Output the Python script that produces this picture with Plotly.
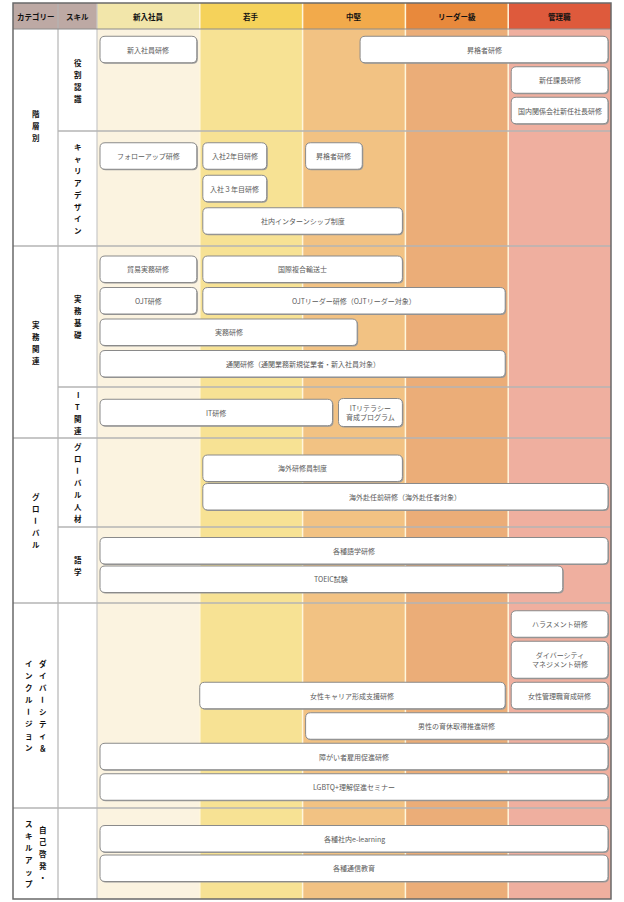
import plotly.graph_objects as go

# ---- data -------------------------------------------------------------
levels = ["新入社員", "若手", "中堅", "リーダー級", "管理職"]

# vertical category labels, one string per text column (right to left)
categories = [["階層別"], ["実務関連"], ["グローバル"],
              ["ダイバーシティ＆", "インクルージョン"], ["自己啓発・", "スキルアップ"]]

skills = ["役割認識", "キャリアデザイン", "実務基礎", "IT関連", "グローバル人材", "語学", "", ""]
skill_cat = [0, 0, 1, 1, 2, 2, 3, 4]

prog_names = [
    "新入社員研修", "昇格者研修", "新任課長研修", "国内関係会社新任社長研修",
    "フォローアップ研修", "入社2年目研修", "昇格者研修", "入社３年目研修", "社内インターンシップ制度",
    "貿易実務研修", "国際複合輸送士", "OJT研修", "OJTリーダー研修（OJTリーダー対象）", "実務研修",
    "通関研修（通関業務新規従業者・新入社員対象）",
    "IT研修", "ITリテラシー<br>育成プログラム",
    "海外研修員制度", "海外赴任前研修（海外赴任者対象）",
    "各種語学研修", "TOEIC試験",
    "ハラスメント研修", "ダイバーシティ<br>マネジメント研修", "女性キャリア形成支援研修", "女性管理職育成研修",
    "男性の育休取得推進研修", "障がい者雇用促進研修", "LGBTQ+理解促進セミナー",
    "各種社内e-learning", "各種通信教育",
]
prog_skill = [0, 0, 0, 0,
              1, 1, 1, 1, 1,
              2, 2, 2, 2, 2, 2,
              3, 3,
              4, 4,
              5, 5,
              6, 6, 6, 6, 6, 6, 6,
              7, 7]
prog_lane = [0, 0, 1, 2,
             0, 0, 0, 1, 2,
             0, 0, 1, 1, 2, 3,
             0, 0,
             0, 1,
             0, 1,
             0, 1, 2, 2, 3, 4, 5,
             0, 1]
# span in level units (0 = start of 新入社員, 5 = end of 管理職)
prog_from = [0, 2.53, 4, 4,
             0, 1, 2, 1, 1,
             0, 1, 0, 1, 0, 0,
             0, 2.32,
             1, 1,
             0, 0,
             4, 4, 0.97, 4, 2, 0, 0,
             0, 0]
prog_to = [1, 5, 5, 5,
           1, 1.68, 2.61, 1.68, 3,
           1, 3, 1, 4, 2.56, 4,
           2.32, 3,
           3, 5,
           5, 4.56,
           5, 5, 4, 5, 5, 5, 5,
           5, 5]

# ---- layout / style ---------------------------------------------------
W, H = 624, 902
LEFT, TOP = 13, 3
CAT_W, SKILL_W, LV_W = 45, 39, 102.8
HEAD_H = 26
row_h = [102, 115, 141, 51, 89, 76, 205, 91]
row_gap = [4, 6, 5, 0, 2, 2, 4, 3]
cat_nudge = [-12, 0, 0, 0, 0]
BOX_H = 26.5
tall = {"ダイバーシティ<br>マネジメント研修": 37, "ITリテラシー<br>育成プログラム": 28}

head_colors = ["#f2e6aa", "#f5d25a", "#f2aa4b", "#e8893c", "#de5a3c"]
body_colors = ["#fbf3e0", "#f7e294", "#f2c283", "#ebad78", "#efaf9f"]
FONT = "Noto Sans CJK JP"

px = 1.0 / LV_W
x_cat0 = -(CAT_W + SKILL_W) * px
x_skill0 = -SKILL_W * px
x_left = -(LEFT + CAT_W + SKILL_W) * px
x_right = len(levels)
body_top = TOP + HEAD_H
row_top = [body_top]
for h in row_h:
    row_top.append(row_top[-1] + h)
bottom = row_top[-1]

shapes = []
annotations = []


def line(x0, y0, x1, y1, color, width):
    shapes.append(dict(type="line", xref="x", yref="y", x0=x0, y0=y0, x1=x1, y1=y1,
                       line=dict(color=color, width=width), layer="above"))


def rect(x0, y0, x1, y1, color):
    shapes.append(dict(type="rect", xref="x", yref="y", x0=x0, y0=y0, x1=x1, y1=y1,
                       fillcolor=color, line=dict(width=0), layer="below"))


def rrect(x0, x1, y0, y1, r=5):
    rx, ry = r * px, r
    return (f"M{x0+rx},{y0} L{x1-rx},{y0} Q{x1},{y0} {x1},{y0+ry} L{x1},{y1-ry} "
            f"Q{x1},{y1} {x1-rx},{y1} L{x0+rx},{y1} Q{x0},{y1} {x0},{y1-ry} "
            f"L{x0},{y0+ry} Q{x0},{y0} {x0+rx},{y0} Z")


def label(x, y, text, size=7, color="#5a5a5a", bold=False, angle=0):
    if bold:
        text = "<b>" + text + "</b>"
    annotations.append(dict(x=x, y=y, xref="x", yref="y", text=text, showarrow=False,
                            textangle=angle, font=dict(family=FONT, size=size, color=color)))


def vlabel(x, yc, text, pitch=12):
    n = len(text)
    for i, ch in enumerate(text):
        y = yc + (i - (n - 1) / 2) * pitch
        label(x, y, ch, size=7.5, color="#111111", bold=True, angle=90 if ch == "ー" else 0)


# header + body fills
rect(x_cat0, TOP, 0, body_top, "#bda9a4")
rect(x_cat0, body_top, 0, bottom, "#ffffff")
for i, lv in enumerate(levels):
    rect(i, TOP, i + 1, body_top, head_colors[i])
    rect(i, body_top, i + 1, bottom, body_colors[i])

hy = TOP + HEAD_H / 2
label((x_cat0 + x_skill0) / 2, hy, "カテゴリー", size=7.5, color="#111111", bold=True)
label(x_skill0 / 2, hy, "スキル", size=7.5, color="#111111", bold=True)
for i, lv in enumerate(levels):
    label(i + 0.5, hy, lv, size=7.5, color="#111111", bold=True)

# grid lines
for i in range(1, len(levels)):
    line(i, TOP, i, bottom, "#fff6dc", 1.5)
line(x_skill0, TOP, x_skill0, bottom, "#b4b4b4", 1.2)
line(0, TOP, 0, bottom, "#c8c8c8", 1.2)
line(x_cat0, body_top, x_right, body_top, "#8c8c8c", 1)
for r in range(1, len(row_h)):
    x_start = x_cat0 if skill_cat[r] != skill_cat[r - 1] else x_skill0
    line(x_start, row_top[r], x_right, row_top[r], "#b4b4b4", 1.5)
shapes.append(dict(type="rect", xref="x", yref="y", x0=x_cat0, y0=TOP, x1=x_right, y1=bottom,
                   line=dict(color="#6a6a6a", width=1.5), layer="above"))

# skill labels
for r, sk in enumerate(skills):
    if sk:
        vlabel(x_skill0 / 2, (row_top[r] + row_top[r + 1]) / 2, sk)

# category labels
cat_xc = (x_cat0 + x_skill0) / 2
for c, cols in enumerate(categories):
    rows = [r for r in range(len(skills)) if skill_cat[r] == c]
    yc = (row_top[rows[0]] + row_top[rows[-1] + 1]) / 2 + cat_nudge[c]
    k = len(cols)
    for j, col in enumerate(cols):
        xo = ((k - 1) / 2 - j) * 14 * px
        vlabel(cat_xc + xo, yc, col)

# program boxes
for r in range(len(skills)):
    idx = [i for i in range(len(prog_names)) if prog_skill[i] == r]
    nl = max(prog_lane[i] for i in idx) + 1
    lane_h = [max(tall.get(prog_names[i], BOX_H) for i in idx if prog_lane[i] == k) for k in range(nl)]
    total = sum(lane_h) + row_gap[r] * (nl - 1)
    y = row_top[r] + (row_h[r] - total) / 2
    lane_y = []
    for k in range(nl):
        lane_y.append(y)
        y += lane_h[k] + row_gap[r]
    for i in idx:
        h = tall.get(prog_names[i], BOX_H)
        y0 = lane_y[prog_lane[i]] + (lane_h[prog_lane[i]] - h) / 2
        y1 = y0 + h
        x0 = prog_from[i] + 3 * px
        x1 = prog_to[i] - 3 * px
        shapes.append(dict(type="path", xref="x", yref="y", path=rrect(x0 + px, x1 + px, y0 + 1, y1 + 1),
                           fillcolor="#9a9a9a", line=dict(width=0), layer="above"))
        shapes.append(dict(type="path", xref="x", yref="y", path=rrect(x0, x1, y0, y1),
                           fillcolor="#ffffff", line=dict(color="#8a8a8a", width=1), layer="above"))
        label((x0 + x1) / 2, (y0 + y1) / 2, prog_names[i])

fig = go.Figure(go.Scatter(x=[0], y=[0], mode="markers", marker=dict(opacity=0), hoverinfo="skip"))
fig.update_layout(
    width=W, height=H, autosize=False,
    margin=dict(l=0, r=0, t=0, b=0),
    paper_bgcolor="#ffffff", plot_bgcolor="#ffffff",
    showlegend=False,
    xaxis=dict(range=[x_left, x_left + W * px], visible=False, fixedrange=True),
    yaxis=dict(range=[H, 0], visible=False, fixedrange=True),
    shapes=shapes, annotations=annotations,
    font=dict(family=FONT),
)
# the page body has an 8px default margin; drop it so the figure sits at the window origin
fig.write_html("out.html", config={"displayModeBar": False},
               post_script="document.body.style.margin='0';document.body.style.overflow='hidden';")
